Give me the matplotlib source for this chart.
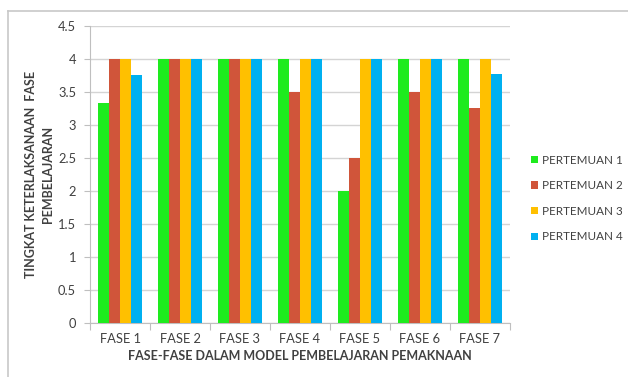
import numpy as np
import matplotlib.pyplot as plt
from matplotlib.lines import Line2D

fase = ['FASE 1', 'FASE 2', 'FASE 3', 'FASE 4', 'FASE 5', 'FASE 6', 'FASE 7']
pertemuan1 = [3.33, 4, 4, 4, 2, 4, 4]
pertemuan2 = [4, 4, 4, 3.5, 2.5, 3.5, 3.25]
pertemuan3 = [4, 4, 4, 4, 4, 4, 4]
pertemuan4 = [3.75, 4, 4, 4, 4, 4, 3.77]
series_names = ['PERTEMUAN 1', 'PERTEMUAN 2', 'PERTEMUAN 3', 'PERTEMUAN 4']
warna = ['#1EEB1E', '#D0553A', '#FFC000', '#00B0F0']

plt.rcParams['font.family'] = ['Lato', 'DejaVu Sans']
teks = '#404040'

fig = plt.figure(figsize=(6.28, 3.77), dpi=100)
ax = fig.add_axes([90/628, 1-323/377, 420/628, 297/377])

x = np.arange(len(fase))
w = 0.183
semua = [pertemuan1, pertemuan2, pertemuan3, pertemuan4]
for i, (vals, nama, c) in enumerate(zip(semua, series_names, warna)):
    ax.bar(x + (i - 1.5) * w, vals, w, color=c, label=nama, zorder=3)

ax.set_xlim(-0.5, len(fase) - 0.5)
ax.set_ylim(0, 4.5)
ax.set_yticks(np.arange(0, 4.51, 0.5))
ax.set_yticklabels(['0', '0.5', '1', '1.5', '2', '2.5', '3', '3.5', '4', '4.5'])
ax.grid(axis='y', color='#D4D4D4', lw=1, zorder=0)

# tick marks sit on category boundaries, labels in the middle
ax.set_xticks(np.arange(-0.5, len(fase), 1))
ax.set_xticklabels([])
ax.set_xticks(x, minor=True)
ax.set_xticklabels(fase, minor=True)
ax.tick_params(axis='x', which='major', length=5, color='#BFBFBF', direction='out')
ax.tick_params(axis='x', which='minor', length=0, pad=7, labelsize=9.3, labelcolor=teks)
ax.tick_params(axis='y', length=4, color='#BFBFBF', labelsize=9.3, labelcolor=teks, pad=6)

for s in ['top', 'right']:
    ax.spines[s].set_visible(False)
for s in ['left', 'bottom']:
    ax.spines[s].set_color('#BFBFBF')

ax.set_xlabel('FASE-FASE DALAM MODEL PEMBELAJARAN PEMAKNAAN', fontsize=9,
              fontweight='bold', color=teks, labelpad=4)
ax.set_ylabel('TINGKAT KETERLAKSANAAN  FASE\nPEMBELAJARAN', fontsize=9,
              fontweight='bold', color=teks, labelpad=3, linespacing=1.45)

leg = ax.legend(loc='upper left', bbox_to_anchor=(526/628, 1-150/377),
                bbox_transform=fig.transFigure, frameon=False, fontsize=8.4,
                handlelength=0.6, handleheight=0.6, handletextpad=0.4,
                labelspacing=1.25, borderaxespad=0)
for t in leg.get_texts():
    t.set_color(teks)

# outer frame of the chart area
fig.add_artist(Line2D([8/628, 8/628], [0, 1-11/377], color='#C8C8C8', lw=1.2))
fig.add_artist(Line2D([8/628, 1], [1-11/377, 1-11/377], color='#C8C8C8', lw=1.2))

fig.savefig('out.png', dpi=100)
